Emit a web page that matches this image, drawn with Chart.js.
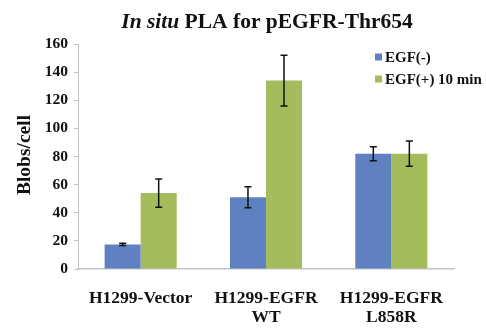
<!DOCTYPE html>
<html>
<head>
<meta charset="utf-8">
<script src="https://cdn.jsdelivr.net/npm/chart.js@4"></script>
<style>
    html, body { margin: 0; padding: 0; background: #fff; }
    #wrap { width: 486px; height: 331px; }
</style>
</head>
<body>
<div id="wrap"><canvas id="plaChart" width="486" height="331"></canvas></div>
<script>
// values
const categories = [['H1299-Vector'], ['H1299-EGFR', 'WT'], ['H1299-EGFR', 'L858R']];
const egfrMinus = [17.5, 51, 82];
const egfrMinusErr = [0.8, 7.5, 5];
const egfrPlus = [54, 134, 82];
const egfrPlusErr = [10, 18, 9];
const yTicks = [0, 20, 40, 60, 80, 100, 120, 140, 160];

const serif = '"Liberation Serif", "Times New Roman", serif';
const blue = '#5f81c1';
const green = '#a4bc5b';

// error bars + title + legend drawn on top of the bars
const extrasPlugin = {
    id: 'extras',
    afterDatasetsDraw: function(chart) {
        const ctx = chart.ctx;
        const y = chart.scales.y;
        const errs = [egfrMinusErr, egfrPlusErr];
        ctx.save();
        ctx.strokeStyle = '#111';
        ctx.lineWidth = 1.5;
        chart.data.datasets.forEach(function(ds, di) {
            const meta = chart.getDatasetMeta(di);
            meta.data.forEach(function(bar, i) {
                const v = ds.data[i];
                const e = errs[di][i];
                const yt = y.getPixelForValue(v + e);
                const yb = y.getPixelForValue(v - e);
                ctx.beginPath();
                ctx.moveTo(bar.x, yt);
                ctx.lineTo(bar.x, yb);
                ctx.moveTo(bar.x - 3.5, yt);
                ctx.lineTo(bar.x + 3.5, yt);
                ctx.moveTo(bar.x - 3.5, yb);
                ctx.lineTo(bar.x + 3.5, yb);
                ctx.stroke();
            });
        });
        ctx.restore();
    },
    afterDraw: function(chart) {
        const ctx = chart.ctx;
        ctx.save();
        ctx.fillStyle = '#111';
        ctx.textBaseline = 'alphabetic';

        // title, with the italic part
        const part1 = 'In situ ';
        const part2 = 'PLA for pEGFR-Thr654';
        const f1 = 'italic bold 21.5px ' + serif;
        const f2 = 'bold 21.5px ' + serif;
        ctx.font = f1;
        const w1 = ctx.measureText(part1).width;
        ctx.font = f2;
        const w2 = ctx.measureText(part2).width;
        const startX = 267 - (w1 + w2) / 2;
        ctx.font = f1;
        ctx.textAlign = 'left';
        ctx.fillText(part1, startX, 28);
        ctx.font = f2;
        ctx.fillText(part2, startX + w1, 28);

        // y axis title
        ctx.save();
        ctx.translate(25, 155);
        ctx.rotate(-Math.PI / 2);
        ctx.font = 'bold 19.5px ' + serif;
        ctx.textAlign = 'center';
        ctx.textBaseline = 'middle';
        ctx.fillText('Blobs/cell', 0, 0);
        ctx.restore();

        // legend
        ctx.font = 'bold 15px ' + serif;
        ctx.textBaseline = 'middle';
        ctx.textAlign = 'left';
        const rows = [[chart.data.datasets[0], 57], [chart.data.datasets[1], 79]];
        rows.forEach(function(r) {
            ctx.fillStyle = r[0].backgroundColor;
            ctx.fillRect(375, r[1] - 3.5, 7, 7);
            ctx.fillStyle = '#111';
            ctx.fillText(r[0].label, 385, r[1] + 1);
        });
        ctx.restore();
    }
};

const ctx = document.getElementById('plaChart').getContext('2d');
new Chart(ctx, {
    type: 'bar',
    data: {
        labels: categories,
        datasets: [{
            label: 'EGF(-)',
            data: egfrMinus,
            backgroundColor: blue,
            categoryPercentage: 0.575,
            barPercentage: 1.0
        }, {
            label: 'EGF(+) 10 min',
            data: egfrPlus,
            backgroundColor: green,
            categoryPercentage: 0.575,
            barPercentage: 1.0
        }]
    },
    options: {
        responsive: false,
        animation: false,
        devicePixelRatio: 1,
        layout: { padding: { top: 44, right: 32, left: 0, bottom: 0 } },
        plugins: {
            legend: { display: false },
            tooltip: { enabled: false },
            title: { display: false }
        },
        scales: {
            x: {
                grid: { display: false, drawTicks: false },
                border: { display: true, color: '#c4c4c4', width: 1.5 },
                ticks: {
                    color: '#111',
                    padding: 20,
                    maxRotation: 0,
                    font: { family: serif, size: 17.5, weight: 'bold', lineHeight: 1.08 }
                },
                afterFit: function(scale) { scale.height = 62; }
            },
            y: {
                min: 0,
                max: 160,
                afterBuildTicks: function(scale) {
                    scale.ticks = yTicks.map(function(v) { return { value: v }; });
                },
                grid: { drawOnChartArea: false, drawTicks: true, tickLength: 4, color: '#c4c4c4' },
                border: { display: true, color: '#c4c4c4', width: 1 },
                ticks: {
                    color: '#111',
                    padding: 6,
                    font: { family: serif, size: 15.5, weight: 'bold' }
                },
                afterFit: function(scale) { scale.width = 78; }
            }
        }
    },
    plugins: [extrasPlugin]
});
</script>
</body>
</html>
